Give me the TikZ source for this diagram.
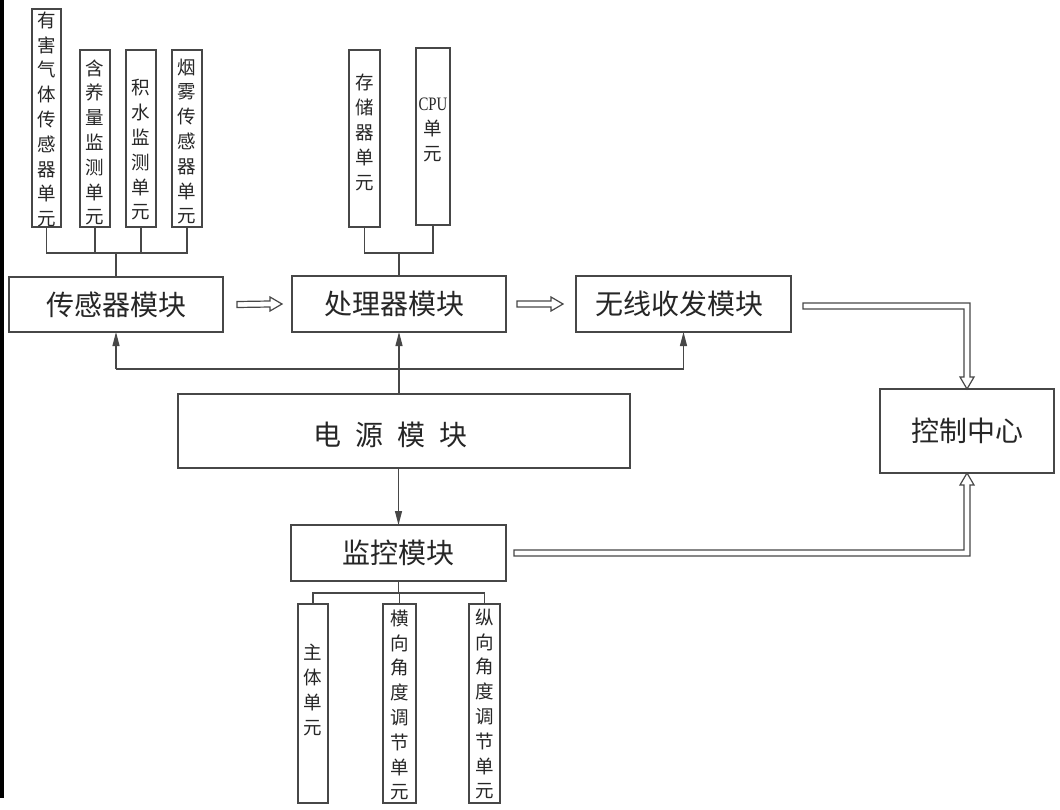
\documentclass[tikz,border=0pt]{standalone}
\usepackage{fontspec}
\usepackage{graphicx}
\setmainfont{Noto Sans CJK SC}
\newfontfamily\latserif{Liberation Serif}
\usetikzlibrary{arrows.meta,calc}
\begin{document}
\begin{tikzpicture}[x=1pt,y=-1pt,
  ln/.style={draw=black!72, line width=1.2pt},
  boxn/.style={ln, rectangle, inner sep=0pt, outer sep=0pt},
  vtxt/.style={align=center, inner sep=0pt, text=black!85, font=\fontsize{18.5}{24.8}\selectfont},
  btxt/.style={text=black!85, font=\fontsize{28}{30}\selectfont},
  wire/.style={ln},
  arr/.style={ln, -{Triangle[length=14pt,width=7pt]}},
  hollow/.style={ln, fill=white, line join=miter}
]
\fill[white] (0,0) rectangle (1060,809);
\useasboundingbox (0,0) rectangle (1060,809);
\fill[black] (0,0) rectangle (3.5,798);

% sensor units
\node[boxn, minimum width=29, minimum height=218] (s1) at (46.5,118) {};
\node[boxn, minimum width=30, minimum height=177] (s2) at (95,138.5) {};
\node[boxn, minimum width=30, minimum height=177] (s3) at (141,138.5) {};
\node[boxn, minimum width=30, minimum height=177] (s4) at (187,138.5) {};
\node[vtxt] (s1t) at (47,119.5) {有\\害\\气\\体\\传\\感\\器\\单\\元};
\node[vtxt] (s2t) at (95,142.5) {含\\养\\量\\监\\测\\单\\元};
\node[vtxt] (s3t) at (141,150) {积\\水\\监\\测\\单\\元};
\node[vtxt] (s4t) at (187,141.5) {烟\\雾\\传\\感\\器\\单\\元};

% processor units
\node[boxn, minimum width=31, minimum height=177] (m1) at (364.5,138.5) {};
\node[boxn, minimum width=34, minimum height=177] (m2) at (433,136.5) {};
\node[vtxt] (m1t) at (364.5,132.5) {存\\储\\器\\单\\元};
\node[vtxt] (m2t) at (433,130) {{\latserif\fontsize{19}{24.8}\selectfont\scalebox{0.78}[1]{CPU}}\\单\\元};

% modules
\node[boxn, btxt, minimum width=214, minimum height=55] (sensor) at (116,304.5) {传感器模块};
\node[boxn, btxt, minimum width=214, minimum height=56] (proc) at (399,304) {\hspace*{-10pt}处理器模块};
\node[boxn, btxt, minimum width=215, minimum height=56] (wireless) at (683.5,304) {\hspace*{-9pt}无线收发模块};
\node[boxn, btxt, minimum width=174, minimum height=84] (control) at (967,431) {控制中心};
\node[boxn, minimum width=452, minimum height=74] (power) at (404,431) {};
\node[btxt] (powert) at (390,435) {电\hspace{0.5em}源\hspace{0.5em}模\hspace{0.5em}块};
\node[boxn, btxt, minimum width=215, minimum height=56] (monitor) at (398.5,553) {监控模块};

% monitor units
\node[boxn, minimum width=30, minimum height=199] (b1) at (313,703.5) {};
\node[boxn, minimum width=33, minimum height=199] (b2) at (399.5,703.5) {};
\node[boxn, minimum width=31, minimum height=199] (b3) at (484.5,703.5) {};
\node[vtxt] (b1t) at (313,690) {主\\体\\单\\元};
\node[vtxt] (b2t) at (399.5,705) {横\\向\\角\\度\\调\\节\\单\\元};
\node[vtxt] (b3t) at (484.5,704) {纵\\向\\角\\度\\调\\节\\单\\元};

% tree wires
\coordinate (busA) at (117,253);
\draw[wire] (s1.south) |- (s4.south |- busA) -- (s4.south);
\draw[wire] (s2.south) -- (s2.south |- busA);
\draw[wire] (s3.south) -- (s3.south |- busA);
\draw[wire] (sensor.north) -- (sensor.north |- busA);

\coordinate (busB) at (399,253);
\draw[wire] (m1.south) |- (m2.south |- busB) -- (m2.south);
\draw[wire] (proc.north) -- (proc.north |- busB);

\coordinate (busC) at (398,593);
\draw[wire] (monitor.south) -- (monitor.south |- busC);
\draw[wire] (b1.north) |- (b3.north |- busC) -- (b3.north);
\draw[wire] (b2.north) -- (b2.north |- busC);

% power distribution
\coordinate (pb) at (399,369);
\draw[wire] (sensor.south |- pb) -- (wireless.south |- pb);
\draw[arr] (proc.south |- power.north) -- (proc.south);
\draw[arr] (sensor.south |- pb) -- (sensor.south);
\draw[arr] (wireless.south |- pb) -- (wireless.south);
\draw[arr] (monitor.north |- power.south) -- (monitor.north);

% hollow arrows between modules
\coordinate (h1s) at ([xshift=14pt]sensor.east);
\coordinate (h1e) at ([xshift=-10pt]proc.west);
\draw[hollow] ($(h1s)+(0,-3)$) -- ($(h1e)+(-12,-3)$) -- ($(h1e)+(-12,-7)$) -- (h1e)
  -- ($(h1e)+(-12,7)$) -- ($(h1e)+(-12,3)$) -- ($(h1s)+(0,3)$) -- cycle;
\coordinate (h2s) at ([xshift=11pt]proc.east);
\coordinate (h2e) at ([xshift=-13pt]wireless.west);
\draw[hollow] ($(h2s)+(0,-3)$) -- ($(h2e)+(-12,-3)$) -- ($(h2e)+(-12,-7)$) -- (h2e)
  -- ($(h2e)+(-12,7)$) -- ($(h2e)+(-12,3)$) -- ($(h2s)+(0,3)$) -- cycle;

% hollow connectors to control centre
\coordinate (S) at ([xshift=12pt,yshift=-2pt]wireless.east);
\coordinate (T) at (control.north);
\draw[hollow] ($(S)+(0,-3)$) -- ($(T|-S)+(3,-3)$) -- ($(T)+(3,-12)$) -- ($(T)+(7,-12)$) -- (T)
  -- ($(T)+(-7,-12)$) -- ($(T)+(-3,-12)$) -- ($(T|-S)+(-3,3)$) -- ($(S)+(0,3)$) -- cycle;
\coordinate (S2) at ([xshift=8pt]monitor.east);
\coordinate (T2) at (control.south);
\draw[hollow] ($(S2)+(0,-3)$) -- ($(T2|-S2)+(-3,-3)$) -- ($(T2)+(-3,12)$) -- ($(T2)+(-7,12)$) -- (T2)
  -- ($(T2)+(7,12)$) -- ($(T2)+(3,12)$) -- ($(T2|-S2)+(3,3)$) -- ($(S2)+(0,3)$) -- cycle;
\end{tikzpicture}
\end{document}
